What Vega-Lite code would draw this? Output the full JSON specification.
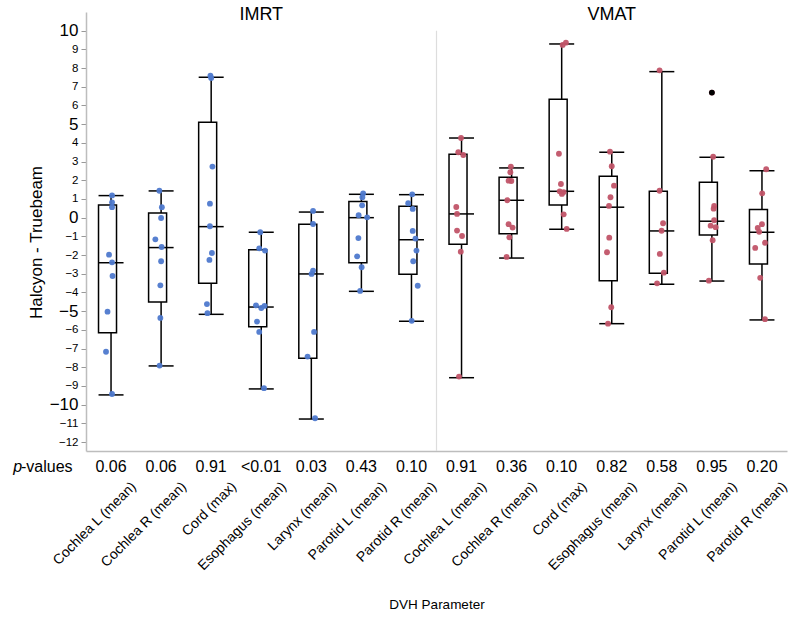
{
  "$schema": "https://vega.github.io/schema/vega-lite/v6.json",
  "width": 701,
  "height": 439,
  "autosize": {"type": "none"},
  "padding": {"left": 86, "top": 12, "right": 13, "bottom": 166},
  "background": "white",
  "resolve": {"axis": {"x": "independent", "y": "independent"}},
  "config": {
    "view": {"stroke": null},
    "font": "Liberation Sans"
  },
  "datasets": {
    "box": [
      {"grp": "IMRT", "param": "Cochlea L (mean)", "lower": -9.48, "q1": -6.15, "median": -2.41, "q3": 0.68, "upper": 1.18, "p": "0.06"},
      {"grp": "IMRT", "param": "Cochlea R (mean)", "lower": -7.93, "q1": -4.51, "median": -1.6, "q3": 0.25, "upper": 1.43, "p": "0.06"},
      {"grp": "IMRT", "param": "Cord (max)", "lower": -5.17, "q1": -3.51, "median": -0.48, "q3": 5.1, "upper": 7.51, "p": "0.91"},
      {"grp": "IMRT", "param": "Esophagus (mean)", "lower": -9.16, "q1": -5.84, "median": -4.78, "q3": -1.71, "upper": -0.78, "p": "<0.01"},
      {"grp": "IMRT", "param": "Larynx (mean)", "lower": -10.77, "q1": -7.52, "median": -3.01, "q3": -0.35, "upper": 0.3, "p": "0.03"},
      {"grp": "IMRT", "param": "Parotid L (mean)", "lower": -3.94, "q1": -2.41, "median": 0.0, "q3": 0.86, "upper": 1.25, "p": "0.43"},
      {"grp": "IMRT", "param": "Parotid R (mean)", "lower": -5.54, "q1": -3.03, "median": -1.18, "q3": 0.61, "upper": 1.23, "p": "0.10"},
      {"grp": "VMAT", "param": "Cochlea L (mean)", "lower": -8.56, "q1": -1.42, "median": 0.2, "q3": 3.39, "upper": 4.26, "p": "0.91"},
      {"grp": "VMAT", "param": "Cochlea R (mean)", "lower": -2.16, "q1": -0.86, "median": 0.93, "q3": 2.16, "upper": 2.66, "p": "0.36"},
      {"grp": "VMAT", "param": "Cord (max)", "lower": -0.62, "q1": 0.68, "median": 1.41, "q3": 6.33, "upper": 9.29, "p": "0.10"},
      {"grp": "VMAT", "param": "Esophagus (mean)", "lower": -5.67, "q1": -3.37, "median": 0.56, "q3": 2.21, "upper": 3.5, "p": "0.82"},
      {"grp": "VMAT", "param": "Larynx (mean)", "lower": -3.56, "q1": -2.97, "median": -0.71, "q3": 1.41, "upper": 7.81, "p": "0.58"},
      {"grp": "VMAT", "param": "Parotid L (mean)", "lower": -3.39, "q1": -0.93, "median": -0.19, "q3": 1.89, "upper": 3.23, "p": "0.95"},
      {"grp": "VMAT", "param": "Parotid R (mean)", "lower": -5.47, "q1": -2.48, "median": -0.78, "q3": 0.43, "upper": 2.51, "p": "0.20"}
    ],
    "out": [
      {"grp": "VMAT", "param": "Parotid L (mean)", "diff": 6.69}
    ],
    "heads": [
      {"grp": "IMRT", "param": "Esophagus (mean)", "t": "IMRT"},
      {"grp": "VMAT", "param": "Esophagus (mean)", "t": "VMAT"}
    ],
    "divider": [
      {"grp": "VMAT", "param": "Cochlea L (mean)"}
    ],
    "pts": [
      {"grp": "IMRT", "param": "Cochlea L (mean)", "diff": 1.19, "jitter": 0.04},
      {"grp": "IMRT", "param": "Cochlea L (mean)", "diff": 0.82, "jitter": 0.04},
      {"grp": "IMRT", "param": "Cochlea L (mean)", "diff": 0.56, "jitter": 0.04},
      {"grp": "IMRT", "param": "Cochlea L (mean)", "diff": -1.98, "jitter": -0.08},
      {"grp": "IMRT", "param": "Cochlea L (mean)", "diff": -2.39, "jitter": 0.04},
      {"grp": "IMRT", "param": "Cochlea L (mean)", "diff": -3.12, "jitter": 0.06},
      {"grp": "IMRT", "param": "Cochlea L (mean)", "diff": -5.03, "jitter": -0.14},
      {"grp": "IMRT", "param": "Cochlea L (mean)", "diff": -7.17, "jitter": -0.2},
      {"grp": "IMRT", "param": "Cochlea L (mean)", "diff": -9.43, "jitter": 0.04},
      {"grp": "IMRT", "param": "Cochlea R (mean)", "diff": 1.44, "jitter": -0.07},
      {"grp": "IMRT", "param": "Cochlea R (mean)", "diff": 0.56, "jitter": 0.03},
      {"grp": "IMRT", "param": "Cochlea R (mean)", "diff": -0.02, "jitter": 0.0},
      {"grp": "IMRT", "param": "Cochlea R (mean)", "diff": -1.16, "jitter": -0.23},
      {"grp": "IMRT", "param": "Cochlea R (mean)", "diff": -1.57, "jitter": 0.02},
      {"grp": "IMRT", "param": "Cochlea R (mean)", "diff": -2.33, "jitter": 0.0},
      {"grp": "IMRT", "param": "Cochlea R (mean)", "diff": -3.62, "jitter": -0.03},
      {"grp": "IMRT", "param": "Cochlea R (mean)", "diff": -5.36, "jitter": -0.03},
      {"grp": "IMRT", "param": "Cochlea R (mean)", "diff": -7.91, "jitter": -0.06},
      {"grp": "IMRT", "param": "Cord (max)", "diff": 7.59, "jitter": -0.03},
      {"grp": "IMRT", "param": "Cord (max)", "diff": 7.47, "jitter": 0.0},
      {"grp": "IMRT", "param": "Cord (max)", "diff": 2.73, "jitter": 0.05},
      {"grp": "IMRT", "param": "Cord (max)", "diff": 0.75, "jitter": -0.05},
      {"grp": "IMRT", "param": "Cord (max)", "diff": -0.46, "jitter": -0.05},
      {"grp": "IMRT", "param": "Cord (max)", "diff": -1.89, "jitter": 0.03},
      {"grp": "IMRT", "param": "Cord (max)", "diff": -2.26, "jitter": -0.07},
      {"grp": "IMRT", "param": "Cord (max)", "diff": -4.62, "jitter": -0.17},
      {"grp": "IMRT", "param": "Cord (max)", "diff": -5.11, "jitter": -0.15},
      {"grp": "IMRT", "param": "Esophagus (mean)", "diff": -0.78, "jitter": -0.04},
      {"grp": "IMRT", "param": "Esophagus (mean)", "diff": -1.64, "jitter": -0.08},
      {"grp": "IMRT", "param": "Esophagus (mean)", "diff": -1.76, "jitter": 0.15},
      {"grp": "IMRT", "param": "Esophagus (mean)", "diff": -4.69, "jitter": -0.21},
      {"grp": "IMRT", "param": "Esophagus (mean)", "diff": -4.83, "jitter": 0.0},
      {"grp": "IMRT", "param": "Esophagus (mean)", "diff": -4.72, "jitter": 0.13},
      {"grp": "IMRT", "param": "Esophagus (mean)", "diff": -5.56, "jitter": -0.17},
      {"grp": "IMRT", "param": "Esophagus (mean)", "diff": -6.11, "jitter": -0.08},
      {"grp": "IMRT", "param": "Esophagus (mean)", "diff": -9.12, "jitter": 0.11},
      {"grp": "IMRT", "param": "Larynx (mean)", "diff": 0.36, "jitter": 0.07},
      {"grp": "IMRT", "param": "Larynx (mean)", "diff": -0.34, "jitter": 0.07},
      {"grp": "IMRT", "param": "Larynx (mean)", "diff": -2.83, "jitter": 0.07},
      {"grp": "IMRT", "param": "Larynx (mean)", "diff": -3.01, "jitter": 0.01},
      {"grp": "IMRT", "param": "Larynx (mean)", "diff": -6.11, "jitter": 0.11},
      {"grp": "IMRT", "param": "Larynx (mean)", "diff": -7.43, "jitter": -0.15},
      {"grp": "IMRT", "param": "Larynx (mean)", "diff": -10.73, "jitter": 0.15},
      {"grp": "IMRT", "param": "Parotid L (mean)", "diff": 1.3, "jitter": 0.07},
      {"grp": "IMRT", "param": "Parotid L (mean)", "diff": 1.09, "jitter": 0.04},
      {"grp": "IMRT", "param": "Parotid L (mean)", "diff": 0.66, "jitter": 0.03},
      {"grp": "IMRT", "param": "Parotid L (mean)", "diff": 0.13, "jitter": -0.11},
      {"grp": "IMRT", "param": "Parotid L (mean)", "diff": 0.02, "jitter": 0.23},
      {"grp": "IMRT", "param": "Parotid L (mean)", "diff": -1.09, "jitter": -0.12},
      {"grp": "IMRT", "param": "Parotid L (mean)", "diff": -2.07, "jitter": -0.17},
      {"grp": "IMRT", "param": "Parotid L (mean)", "diff": -2.65, "jitter": 0.01},
      {"grp": "IMRT", "param": "Parotid L (mean)", "diff": -3.92, "jitter": -0.05},
      {"grp": "IMRT", "param": "Parotid R (mean)", "diff": 1.25, "jitter": 0.03},
      {"grp": "IMRT", "param": "Parotid R (mean)", "diff": 0.77, "jitter": -0.13},
      {"grp": "IMRT", "param": "Parotid R (mean)", "diff": 0.47, "jitter": 0.05},
      {"grp": "IMRT", "param": "Parotid R (mean)", "diff": -0.71, "jitter": 0.05},
      {"grp": "IMRT", "param": "Parotid R (mean)", "diff": -1.12, "jitter": 0.16},
      {"grp": "IMRT", "param": "Parotid R (mean)", "diff": -1.76, "jitter": 0.2},
      {"grp": "IMRT", "param": "Parotid R (mean)", "diff": -2.33, "jitter": 0.07},
      {"grp": "IMRT", "param": "Parotid R (mean)", "diff": -3.64, "jitter": 0.25},
      {"grp": "IMRT", "param": "Parotid R (mean)", "diff": -5.52, "jitter": 0.01},
      {"grp": "VMAT", "param": "Cochlea L (mean)", "diff": 4.26, "jitter": -0.02},
      {"grp": "VMAT", "param": "Cochlea L (mean)", "diff": 3.5, "jitter": -0.13},
      {"grp": "VMAT", "param": "Cochlea L (mean)", "diff": 3.35, "jitter": 0.07},
      {"grp": "VMAT", "param": "Cochlea L (mean)", "diff": 0.57, "jitter": -0.21},
      {"grp": "VMAT", "param": "Cochlea L (mean)", "diff": 0.2, "jitter": -0.18},
      {"grp": "VMAT", "param": "Cochlea L (mean)", "diff": -0.69, "jitter": -0.18},
      {"grp": "VMAT", "param": "Cochlea L (mean)", "diff": -0.98, "jitter": 0.02},
      {"grp": "VMAT", "param": "Cochlea L (mean)", "diff": -1.82, "jitter": -0.03},
      {"grp": "VMAT", "param": "Cochlea L (mean)", "diff": -8.5, "jitter": -0.1},
      {"grp": "VMAT", "param": "Cochlea R (mean)", "diff": 2.73, "jitter": -0.03},
      {"grp": "VMAT", "param": "Cochlea R (mean)", "diff": 2.43, "jitter": -0.05},
      {"grp": "VMAT", "param": "Cochlea R (mean)", "diff": 1.98, "jitter": -0.12},
      {"grp": "VMAT", "param": "Cochlea R (mean)", "diff": 1.96, "jitter": -0.01},
      {"grp": "VMAT", "param": "Cochlea R (mean)", "diff": 0.93, "jitter": -0.17},
      {"grp": "VMAT", "param": "Cochlea R (mean)", "diff": -0.35, "jitter": -0.12},
      {"grp": "VMAT", "param": "Cochlea R (mean)", "diff": -0.53, "jitter": 0.04},
      {"grp": "VMAT", "param": "Cochlea R (mean)", "diff": -1.05, "jitter": -0.09},
      {"grp": "VMAT", "param": "Cochlea R (mean)", "diff": -2.1, "jitter": -0.2},
      {"grp": "VMAT", "param": "Cord (max)", "diff": 9.36, "jitter": 0.17},
      {"grp": "VMAT", "param": "Cord (max)", "diff": 9.24, "jitter": 0.04},
      {"grp": "VMAT", "param": "Cord (max)", "diff": 3.42, "jitter": -0.11},
      {"grp": "VMAT", "param": "Cord (max)", "diff": 1.8, "jitter": -0.03},
      {"grp": "VMAT", "param": "Cord (max)", "diff": 1.41, "jitter": -0.08},
      {"grp": "VMAT", "param": "Cord (max)", "diff": 1.37, "jitter": 0.08},
      {"grp": "VMAT", "param": "Cord (max)", "diff": 1.27, "jitter": 0.01},
      {"grp": "VMAT", "param": "Cord (max)", "diff": 0.18, "jitter": 0.08},
      {"grp": "VMAT", "param": "Cord (max)", "diff": -0.6, "jitter": 0.2},
      {"grp": "VMAT", "param": "Esophagus (mean)", "diff": 3.53, "jitter": -0.07},
      {"grp": "VMAT", "param": "Esophagus (mean)", "diff": 2.75, "jitter": 0.0},
      {"grp": "VMAT", "param": "Esophagus (mean)", "diff": 1.71, "jitter": 0.09},
      {"grp": "VMAT", "param": "Esophagus (mean)", "diff": 1.09, "jitter": -0.05},
      {"grp": "VMAT", "param": "Esophagus (mean)", "diff": 0.63, "jitter": -0.11},
      {"grp": "VMAT", "param": "Esophagus (mean)", "diff": -1.07, "jitter": -0.1},
      {"grp": "VMAT", "param": "Esophagus (mean)", "diff": -1.85, "jitter": -0.19},
      {"grp": "VMAT", "param": "Esophagus (mean)", "diff": -4.79, "jitter": -0.02},
      {"grp": "VMAT", "param": "Esophagus (mean)", "diff": -5.67, "jitter": -0.15},
      {"grp": "VMAT", "param": "Larynx (mean)", "diff": 7.88, "jitter": -0.09},
      {"grp": "VMAT", "param": "Larynx (mean)", "diff": 1.44, "jitter": -0.09},
      {"grp": "VMAT", "param": "Larynx (mean)", "diff": -0.3, "jitter": 0.05},
      {"grp": "VMAT", "param": "Larynx (mean)", "diff": -0.7, "jitter": -0.01},
      {"grp": "VMAT", "param": "Larynx (mean)", "diff": -1.94, "jitter": -0.08},
      {"grp": "VMAT", "param": "Larynx (mean)", "diff": -2.94, "jitter": 0.08},
      {"grp": "VMAT", "param": "Larynx (mean)", "diff": -3.51, "jitter": -0.19},
      {"grp": "VMAT", "param": "Parotid L (mean)", "diff": 6.69, "jitter": 0.0},
      {"grp": "VMAT", "param": "Parotid L (mean)", "diff": 3.26, "jitter": 0.05},
      {"grp": "VMAT", "param": "Parotid L (mean)", "diff": 0.63, "jitter": 0.09},
      {"grp": "VMAT", "param": "Parotid L (mean)", "diff": 0.48, "jitter": 0.07},
      {"grp": "VMAT", "param": "Parotid L (mean)", "diff": -0.14, "jitter": 0.09},
      {"grp": "VMAT", "param": "Parotid L (mean)", "diff": -0.43, "jitter": -0.05},
      {"grp": "VMAT", "param": "Parotid L (mean)", "diff": -0.51, "jitter": 0.15},
      {"grp": "VMAT", "param": "Parotid L (mean)", "diff": -1.21, "jitter": 0.03},
      {"grp": "VMAT", "param": "Parotid L (mean)", "diff": -3.37, "jitter": -0.12},
      {"grp": "VMAT", "param": "Parotid R (mean)", "diff": 2.59, "jitter": 0.17},
      {"grp": "VMAT", "param": "Parotid R (mean)", "diff": 1.3, "jitter": 0.01},
      {"grp": "VMAT", "param": "Parotid R (mean)", "diff": -0.35, "jitter": 0.0},
      {"grp": "VMAT", "param": "Parotid R (mean)", "diff": -0.55, "jitter": -0.17},
      {"grp": "VMAT", "param": "Parotid R (mean)", "diff": -0.76, "jitter": -0.11},
      {"grp": "VMAT", "param": "Parotid R (mean)", "diff": -1.34, "jitter": 0.12},
      {"grp": "VMAT", "param": "Parotid R (mean)", "diff": -1.62, "jitter": -0.27},
      {"grp": "VMAT", "param": "Parotid R (mean)", "diff": -3.22, "jitter": -0.07},
      {"grp": "VMAT", "param": "Parotid R (mean)", "diff": -5.43, "jitter": 0.12}
    ]
  },
  "layer": [
    {
      "data": {"name": "box"},
      "transform": [{"calculate": "datum.grp + '|' + datum.param", "as": "key"}],
      "mark": {"type": "rule", "color": "black", "strokeWidth": 1.5},
      "encoding": {
        "x": {
          "field": "key", "type": "nominal", "title": "DVH Parameter",
          "scale": {"domain": ["IMRT|Cochlea L (mean)", "IMRT|Cochlea R (mean)", "IMRT|Cord (max)", "IMRT|Esophagus (mean)", "IMRT|Larynx (mean)", "IMRT|Parotid L (mean)", "IMRT|Parotid R (mean)", "VMAT|Cochlea L (mean)", "VMAT|Cochlea R (mean)", "VMAT|Cord (max)", "VMAT|Esophagus (mean)", "VMAT|Larynx (mean)", "VMAT|Parotid L (mean)", "VMAT|Parotid R (mean)"], "paddingInner": 0, "paddingOuter": 0},
          "axis": {
            "labelExpr": "split(datum.label, '|')[1]",
            "labelAngle": -45, "labelAlign": "right", "labelBaseline": "middle",
            "labelPadding": 33, "labelOffset": 23, "labelFontSize": 14, "labelColor": "black",
            "labelLimit": 300, "labelOverlap": false,
            "ticks": false, "domainColor": "#bdbdbd", "domainWidth": 1.5,
            "titleFontSize": 13.5, "titleFontWeight": "normal", "titleColor": "black",
            "titleY": 153, "titleBaseline": "middle"
          }
        },
        "y": {
          "field": "lower", "type": "quantitative", "title": "Halcyon - Truebeam",
          "scale": {"domain": [-12.48, 11.0], "nice": false, "zero": false},
          "axis": {
            "values": [-12, -11, -10, -9, -8, -7, -6, -5, -4, -3, -2, -1, 0, 1, 2, 3, 4, 5, 6, 7, 8, 9, 10],
            "labelFontSize": {"condition": {"test": "datum.value % 5 === 0", "value": 17}, "value": 11.5},
            "grid": false, "labelOverlap": false, "labelFlush": false,
            "labelColor": "black", "labelPadding": 3,
            "tickSize": 5, "tickColor": "#999999", "domainColor": "#bdbdbd", "domainWidth": 1.5,
            "titleFontSize": 17, "titleFontWeight": "normal", "titleColor": "black",
            "titleX": -50, "titleY": 230, "titleBaseline": "middle", "titleAlign": "center", "titleAngle": 270
          }
        },
        "y2": {"field": "upper"}
      }
    },
    {
      "data": {"name": "divider"},
      "transform": [{"calculate": "datum.grp + '|' + datum.param", "as": "key"}],
      "mark": {"type": "rule", "color": "#dddddd", "strokeWidth": 1.2},
      "encoding": {
        "x": {"field": "key", "type": "nominal", "bandPosition": 0, "axis": null},
        "y": {"datum": 10, "type": "quantitative", "axis": null},
        "y2": {"datum": -12.48}
      }
    },
    {
      "data": {"name": "box"},
      "transform": [{"calculate": "datum.grp + '|' + datum.param", "as": "key"}],
      "mark": {"type": "bar", "fill": "white", "stroke": "black", "strokeWidth": 1.5, "width": {"band": 0.5}},
      "encoding": {
        "x": {"field": "key", "type": "nominal", "axis": null},
        "y": {"field": "q1", "type": "quantitative", "axis": null},
        "y2": {"field": "q3"}
      }
    },
    {
      "data": {"name": "box"},
      "transform": [{"calculate": "datum.grp + '|' + datum.param", "as": "key"}],
      "mark": {"type": "tick", "color": "black", "size": 25, "thickness": 1.5, "opacity": 1},
      "encoding": {
        "x": {"field": "key", "type": "nominal", "axis": null},
        "y": {"field": "median", "type": "quantitative", "axis": null}
      }
    },
    {
      "data": {"name": "box"},
      "transform": [{"calculate": "datum.grp + '|' + datum.param", "as": "key"}],
      "mark": {"type": "tick", "color": "black", "size": 25, "thickness": 1.5, "opacity": 1},
      "encoding": {
        "x": {"field": "key", "type": "nominal", "axis": null},
        "y": {"field": "lower", "type": "quantitative", "axis": null}
      }
    },
    {
      "data": {"name": "box"},
      "transform": [{"calculate": "datum.grp + '|' + datum.param", "as": "key"}],
      "mark": {"type": "tick", "color": "black", "size": 25, "thickness": 1.5, "opacity": 1},
      "encoding": {
        "x": {"field": "key", "type": "nominal", "axis": null},
        "y": {"field": "upper", "type": "quantitative", "axis": null}
      }
    },
    {
      "data": {"name": "pts"},
      "transform": [{"calculate": "datum.grp + '|' + datum.param", "as": "key"}],
      "mark": {"type": "circle", "size": 34, "opacity": 0.95},
      "encoding": {
        "x": {"field": "key", "type": "nominal", "axis": null},
        "xOffset": {"field": "jitter", "type": "quantitative", "scale": {"domain": [-1, 1], "range": [0, 50.07]}},
        "y": {"field": "diff", "type": "quantitative", "axis": null},
        "color": {"field": "grp", "type": "nominal", "scale": {"domain": ["IMRT", "VMAT"], "range": ["#4E79CD", "#C15468"]}, "legend": null}
      }
    },
    {
      "data": {"name": "out"},
      "transform": [{"calculate": "datum.grp + '|' + datum.param", "as": "key"}],
      "mark": {"type": "circle", "size": 34, "color": "black", "opacity": 1},
      "encoding": {
        "x": {"field": "key", "type": "nominal", "axis": null},
        "y": {"field": "diff", "type": "quantitative", "axis": null}
      }
    },
    {
      "data": {"name": "heads"},
      "transform": [{"calculate": "datum.grp + '|' + datum.param", "as": "key"}],
      "mark": {"type": "text", "fontSize": 18, "color": "black", "baseline": "middle", "align": "center"},
      "encoding": {
        "x": {"field": "key", "type": "nominal", "axis": null},
        "y": {"datum": 10.85, "type": "quantitative", "axis": null},
        "text": {"field": "t"}
      }
    },
    {
      "data": {"name": "box"},
      "transform": [{"calculate": "datum.grp + '|' + datum.param", "as": "key"}],
      "mark": {"type": "text", "fontSize": 16, "color": "black", "baseline": "middle", "align": "center"},
      "encoding": {
        "x": {"field": "key", "type": "nominal", "axis": null},
        "y": {"datum": -13.33, "type": "quantitative", "axis": null},
        "text": {"field": "p"}
      }
    },
    {
      "data": {"values": [{"grp": "IMRT", "param": "Cochlea L (mean)", "t": "p"}]},
      "transform": [{"calculate": "datum.grp + '|' + datum.param", "as": "key"}],
      "mark": {"type": "text", "fontSize": 16, "fontStyle": "italic", "color": "black", "baseline": "middle", "align": "right", "dx": -89},
      "encoding": {
        "x": {"field": "key", "type": "nominal", "axis": null},
        "y": {"datum": -13.33, "type": "quantitative", "axis": null},
        "text": {"field": "t"}
      }
    },
    {
      "data": {"values": [{"grp": "IMRT", "param": "Cochlea L (mean)", "t": "-values"}]},
      "transform": [{"calculate": "datum.grp + '|' + datum.param", "as": "key"}],
      "mark": {"type": "text", "fontSize": 16, "color": "black", "baseline": "middle", "align": "left", "dx": -90},
      "encoding": {
        "x": {"field": "key", "type": "nominal", "axis": null},
        "y": {"datum": -13.33, "type": "quantitative", "axis": null},
        "text": {"field": "t"}
      }
    }
  ]
}
